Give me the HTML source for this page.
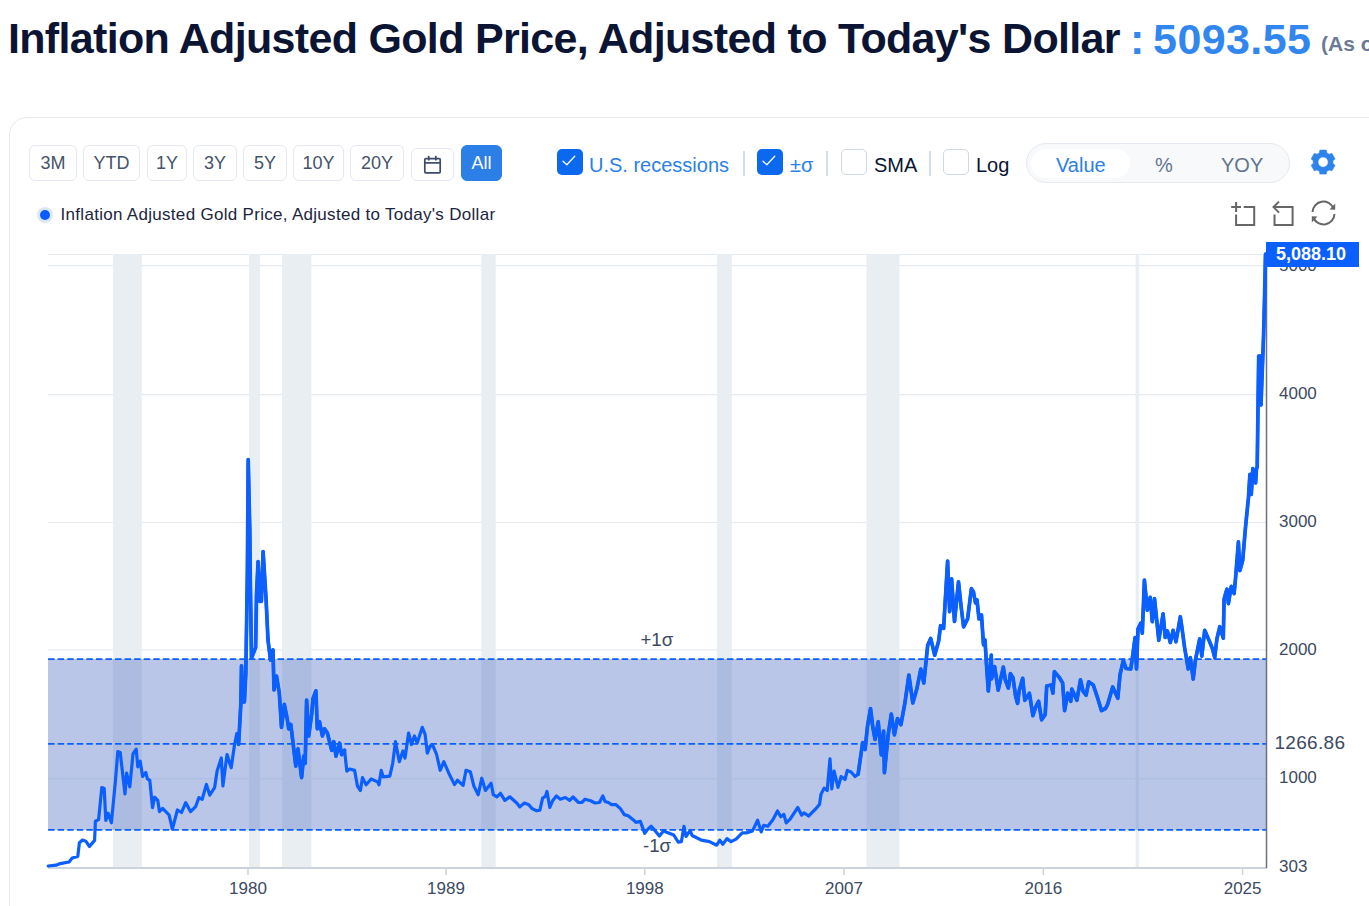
<!DOCTYPE html>
<html><head><meta charset="utf-8">
<style>
*{margin:0;padding:0;box-sizing:border-box}
html,body{width:1369px;height:906px;overflow:hidden;background:#fff;font-family:"Liberation Sans",sans-serif}
.abs{position:absolute}
.tt{white-space:nowrap;font-weight:bold;font-size:43px;line-height:50px}
#card{left:9px;top:117px;width:1400px;height:900px;border:1px solid #e5eaf0;border-radius:18px}
.btn{position:absolute;top:145px;height:36px;border:1px solid #e3e8ef;border-radius:6px;color:#45526a;font-size:18px;text-align:center;line-height:35px}
.cb{position:absolute;top:149px;width:26px;height:26px;border-radius:5px}
.cb.on{background:#0a69ef}
.cb.off{background:#fff;border:1px solid #cfd8e3}
.sep{position:absolute;top:151px;width:2px;height:25px;background:#d5dde7}
.lbl{position:absolute;top:152.5px;font-size:20px;line-height:24px;white-space:nowrap}
</style></head><body>
<div class="abs tt" style="left:8px;top:13px;letter-spacing:-0.68px;color:#0b1533">Inflation Adjusted Gold Price, Adjusted to Today's Dollar</div>
<div class="abs tt" style="left:1130px;top:14px;letter-spacing:0.4px;word-spacing:-4px;color:#3187ee">: 5093.55</div>
<div class="abs tt" style="left:1321px;top:19px;color:#6b7a95;font-size:21px">(As of</div>
<div id="card" class="abs"></div>

<div class="btn" style="left:29px;width:48px">3M</div>
<div class="btn" style="left:83px;width:57px">YTD</div>
<div class="btn" style="left:147px;width:40px">1Y</div>
<div class="btn" style="left:193px;width:44px">3Y</div>
<div class="btn" style="left:243px;width:44px">5Y</div>
<div class="btn" style="left:293px;width:51px">10Y</div>
<div class="btn" style="left:350px;width:54px">20Y</div>
<div class="btn" style="left:411px;top:148px;width:43px;height:33px"></div>
<div class="btn" style="left:461px;width:41px;background:#2b7fe6;border-color:#2b7fe6;color:#fff">All</div>

<div class="cb on" style="left:557px"></div>
<div class="lbl" style="left:589px;color:#2b7fe6">U.S. recessions</div>
<div class="sep" style="left:743px"></div>
<div class="cb on" style="left:757px"></div>
<div class="lbl" style="left:790px;color:#2b7fe6">±σ</div>
<div class="sep" style="left:826px"></div>
<div class="cb off" style="left:841px"></div>
<div class="lbl" style="left:874px;color:#0b1533">SMA</div>
<div class="sep" style="left:929px"></div>
<div class="cb off" style="left:943px"></div>
<div class="lbl" style="left:976px;color:#0b1533">Log</div>

<div class="abs" style="left:1026px;top:143px;width:264px;height:40px;border-radius:20px;background:#f7f9fb;border:1px solid #e5eaf0"></div>
<div class="abs" style="left:1031px;top:149px;width:99px;height:29px;border-radius:15px;background:#fff"></div>
<div class="lbl" style="left:1056px;top:153px;color:#2b7fe6">Value</div>
<div class="lbl" style="left:1155px;top:153px;color:#64748b">%</div>
<div class="lbl" style="left:1221px;top:153px;color:#64748b">YOY</div>

<div class="abs" style="left:37px;top:207px;width:16px;height:16px;border-radius:8px;background:#dbe7fd"></div>
<div class="abs" style="left:40px;top:210px;width:10px;height:10px;border-radius:5px;background:#0a5cff"></div>
<div class="abs" style="left:60.5px;top:205px;font-size:17px;letter-spacing:0.3px;line-height:20px;color:#1b2540;white-space:nowrap">Inflation Adjusted Gold Price, Adjusted to Today's Dollar</div>

<svg class="abs" style="left:0;top:0" width="1369" height="240" viewBox="0 0 1369 240">
<g fill="none" stroke="#fff" stroke-width="1.3" stroke-linecap="round" stroke-linejoin="round">
<path d="M563 161.2 L566.8 164.7 L574.7 156.3"/>
<path d="M763 161.2 L766.8 164.7 L774.7 156.3"/>
</g>
<g fill="none" stroke="#3d4a68" stroke-width="1.7">
<rect x="424.8" y="158.6" width="15.4" height="14.2" rx="1"/>
<line x1="424.8" y1="162.9" x2="440.2" y2="162.9"/>
<line x1="428.7" y1="155.8" x2="428.7" y2="160.5"/>
<line x1="435.8" y1="155.8" x2="435.8" y2="160.5"/>
</g>
<path d="M1318.15 153.53 L1319.39 152.92 L1319.89 150.12 L1326.31 150.12 L1326.81 152.92 L1328.05 153.53 L1329.20 154.30 L1331.87 153.33 L1335.08 158.89 L1332.90 160.72 L1333.00 162.10 L1332.90 163.48 L1335.08 165.31 L1331.87 170.87 L1329.20 169.90 L1328.05 170.67 L1326.81 171.28 L1326.31 174.08 L1319.89 174.08 L1319.39 171.28 L1318.15 170.67 L1317.00 169.90 L1314.33 170.87 L1311.12 165.31 L1313.30 163.48 L1313.20 162.10 L1313.30 160.72 L1311.12 158.89 L1314.33 153.33 L1317.00 154.30 Z M1318.00 162.10 a5.10 5.10 0 1 0 10.20 0 a5.10 5.10 0 1 0 -10.20 0 Z" fill="#2f84ec" fill-rule="evenodd" stroke="#2f84ec" stroke-width="0.6" stroke-linejoin="round"/>
<g fill="none" stroke="#666" stroke-width="2">
<path d="M1231.2 207.1 H1241 M1236.1 202.1 V212 M1243.7 207.1 H1254.2 V225 H1236.1 V214.5"/>
<path d="M1273.5 207.1 H1292.6 V225 H1274.5 V214.5 M1279 201.6 L1273.5 207.1 L1279 212.6"/>
<path d="M1312.5 212 A11 11 0 0 1 1333.5 208 M1334.5 214 A11 11 0 0 1 1313.5 218"/>
</g>
<g fill="#666">
<path d="M1335.2 203.5 L1335.2 209.8 L1329.5 209.5 Z"/>
<path d="M1311.8 222.5 L1311.8 216.2 L1317.5 216.5 Z"/>
</g>
</svg>
<svg class="abs" style="left:0;top:0" width="1369" height="906" viewBox="0 0 1369 906">
<g stroke="#e6ebf1" stroke-width="1.1">
<line x1="48" y1="254.5" x2="1266" y2="254.5"/>
<line x1="48" y1="265.6" x2="1266" y2="265.6"/>
<line x1="48" y1="394.6" x2="1266" y2="394.6"/>
<line x1="48" y1="522.5" x2="1266" y2="522.5"/>
<line x1="48" y1="649.9" x2="1266" y2="649.9"/>
<line x1="48" y1="778.7" x2="1266" y2="778.7"/>
</g>
<g fill="#e9eef3">
<rect x="112.9" y="254" width="28.9" height="614"/>
<rect x="249.1" y="254" width="10.8" height="614"/>
<rect x="282" y="254" width="29.4" height="614"/>
<rect x="481.3" y="254" width="14.4" height="614"/>
<rect x="717" y="254" width="14.8" height="614"/>
<rect x="866.4" y="254" width="33.1" height="614"/>
<rect x="1135.6" y="254" width="3.2" height="614"/>
</g>
<rect x="48" y="659" width="1218" height="170.9" fill="rgb(84,116,196)" fill-opacity="0.41"/>
<g stroke="#0b5fff" stroke-width="1.8" stroke-dasharray="6.5 3.06" stroke-dashoffset="-0.1" fill="none">
<line x1="48" y1="659.2" x2="1266" y2="659.2"/>
<line x1="48" y1="743.9" x2="1266" y2="743.9"/>
<line x1="48" y1="829.9" x2="1266" y2="829.9"/>
</g>
<line x1="48" y1="868" x2="1267" y2="868" stroke="#ccd3de" stroke-width="2"/>
<line x1="1266.5" y1="254" x2="1266.5" y2="868" stroke="#6c717d" stroke-width="1.5"/>
<g stroke="#ccd3de" stroke-width="1.5">
<line x1="248" y1="868" x2="248" y2="875"/>
<line x1="446" y1="868" x2="446" y2="875"/>
<line x1="644.8" y1="868" x2="644.8" y2="875"/>
<line x1="844" y1="868" x2="844" y2="875"/>
<line x1="1043.4" y1="868" x2="1043.4" y2="875"/>
<line x1="1242.6" y1="868" x2="1242.6" y2="875"/>
</g>
<g font-family="Liberation Sans, sans-serif" font-size="17" fill="#3d4a63" text-anchor="middle">
<text x="248" y="894">1980</text>
<text x="446" y="894">1989</text>
<text x="644.8" y="894">1998</text>
<text x="844" y="894">2007</text>
<text x="1043.4" y="894">2016</text>
<text x="1242.6" y="894">2025</text>
</g>
<g font-family="Liberation Sans, sans-serif" font-size="17" fill="#3d4a63">
<text x="1279" y="271">5000</text>
<text x="1279" y="399">4000</text>
<text x="1279" y="527">3000</text>
<text x="1279" y="655">2000</text>
<text x="1274.5" y="749" font-size="19" letter-spacing="0.3">1266.86</text>
<text x="1279" y="783">1000</text>
<text x="1279" y="872">303</text>
<text x="640.5" y="646" font-size="18.6">+1σ</text>
<text x="643" y="852" font-size="18.6">-1σ</text>
</g>
<path id="series" d="M48.2 866 L56.2 865.2 L60.2 863.6 L69 862 L72.2 858 L77.8 856.4 L79.4 842.8 L82.6 840 L85.8 841.2 L89.5 846.5 L94.6 840.4 L95.4 821.2 L98.6 819.6 L101.8 787.6 L104.2 788.4 L105.8 820.4 L108.2 813.2 L111.4 822.8 L115.4 781.2 L117.8 751.6 L120.2 752.4 L125 794 L126.6 773.2 L129.8 786.8 L133 754 L136.2 749.2 L137.8 766.8 L140.2 761.2 L142.6 776.4 L145.8 772.4 L147.4 778.8 L149.8 780.4 L152.5 807.6 L154.6 797.2 L157.8 800.4 L159.4 811.6 L162.6 808.4 L169.1 815 L172.4 829.1 L177.4 810 L181.5 812.5 L185.7 802.6 L190.6 811.7 L195.6 806.7 L198.9 797.6 L202.2 799.3 L206.4 784.4 L209.7 795.1 L214.6 787.7 L217.1 771.1 L221.3 757.9 L222.9 786 L227 754.6 L231.2 767.8 L234.4 745.5 L236.8 733.5 L238.6 744.5 L240.8 704.6 L241.5 665.9 L242.9 701.8 L244.4 701.8 L245.8 673 L246.5 630 L247.4 569.8 L248.2 459.5 L249.8 531 L250.3 578 L251.5 658 L255.6 647.6 L256.5 594.7 L258.1 561.6 L259.8 601.3 L261.4 601.3 L263.1 551.6 L266 598 L268 640 L270.5 660 L273 650 L274 690 L276.5 676 L279.3 693 L281.5 727.4 L284.3 704.4 L287.2 718.8 L288.7 728.8 L290.8 724.5 L295.8 766.1 L298 748.9 L301.6 777.6 L303.7 756.1 L305.2 763.3 L306.6 700.1 L308.7 736 L311.6 714.5 L313 698.7 L315.9 690.8 L317.3 728.8 L319.5 721.7 L322.4 736 L324.5 728.8 L327.4 733.1 L331.7 750.3 L333.8 741.7 L336 756.1 L339.6 743.2 L341.7 754.6 L344.6 750.3 L346.8 771.1 L349.6 769 L354.6 770.4 L357.5 786.2 L360.4 790.5 L362.5 777.6 L366.1 784.8 L371.1 779 L377.6 781.9 L379 784.8 L381.2 770.4 L383.3 776.9 L389.8 776.2 L392.7 763.3 L395.5 741.7 L399.3 761.7 L402.9 750.9 L405 758.1 L408.6 733 L411.5 744.5 L414.4 735.9 L417.2 743 L422.3 727.3 L425.1 734.4 L427.3 753.1 L430.2 745.9 L433 745.9 L436.6 754.5 L440.2 770.3 L443.8 761.7 L448.8 773.2 L454.5 784.6 L457.4 780.3 L463.1 785.4 L466 770.3 L470.3 771.7 L473.9 786.1 L478.2 794.7 L481.8 778.2 L485.4 790.4 L491.1 783.2 L493.3 794.7 L496.9 796.8 L500.5 793.3 L504.8 800.4 L509.8 796.8 L517 803.3 L519.8 806.9 L524.4 803 L528.8 804.7 L532.1 808.6 L536.6 810.8 L539.9 810.2 L542.6 798.1 L545.4 796.4 L547 791.5 L549.8 807.5 L552.6 800.8 L556.4 795.9 L560.3 799.2 L565.3 797.5 L569.7 800.3 L573 797 L578.5 802.5 L581.8 802.5 L585.1 799.2 L590.6 800.8 L595 803 L599.5 802.5 L602.8 795.9 L605 801.4 L608.3 802.5 L611.6 804.7 L616 804.7 L620.4 808.6 L624.3 814.6 L628.2 815.7 L633.7 820.2 L635.9 822.4 L640.3 821.3 L644.7 833.4 L647.7 829.4 L651.2 826.3 L655.3 830.9 L659.4 836 L663.5 830.9 L668.6 832.9 L673.7 835 L678.3 842.1 L681.4 841.6 L684 826.3 L686 836.5 L690.1 830.4 L692.1 835.5 L696.2 837.5 L701.3 840.1 L709.5 841.6 L716.7 845.2 L719.8 840.1 L722.8 844.2 L726.9 838.6 L731 841.6 L736.1 839.1 L742.2 832.9 L746.3 832.9 L752.5 830.9 L757.6 820.2 L761.2 831.9 L763.7 825.3 L767.8 826.3 L772.9 819.7 L777.5 811 L780.8 816.7 L783.9 814.4 L786.2 822.9 L790.1 819.1 L797.8 807.5 L801.7 815.2 L804 812.9 L808.6 816 L811.7 812.9 L815.6 809 L819.5 804.4 L821 794.3 L824.1 788.1 L827.2 790.5 L830 758.8 L831.8 788.9 L834.1 771.1 L838 787.4 L841.1 776.6 L845 779.6 L847.3 770.4 L851.1 771.9 L855 776.6 L858.1 774.2 L862.7 742.6 L865.1 749.5 L867.4 727.1 L870.5 708.5 L872.8 727.1 L875.1 739.5 L878.2 721.7 L881.3 754.9 L883.6 731 L884.4 772.7 L888.2 734.8 L891.3 714 L894.4 734.8 L897.5 718.6 L900.9 724.7 L904.9 702.9 L908.9 675.1 L912.8 702.9 L916.8 689 L920.8 669.1 L923.8 683 L927.7 645.3 L930.7 638.4 L934.7 655.2 L938.6 641.3 L940.6 625.5 L943.6 628.4 L947.6 561 L949.6 611.6 L951.6 578.8 L954.5 621.5 L958.5 581.8 L961 605.6 L963.6 626.8 L967.6 618.9 L971.4 588.7 L973.5 592 L975.5 603 L977 600 L979 619 L981.5 615 L983.5 645 L985 640 L986.5 665 L988.3 691 L991.3 655.2 L991.5 678.9 L994.6 666.6 L998.2 690.1 L1003.3 667.1 L1005.3 679.9 L1008.4 688.1 L1010.4 673.7 L1013 677.8 L1015.6 696.2 L1017.6 703.4 L1019.1 691.1 L1022.7 678.3 L1024.8 700.3 L1029.4 693.2 L1032.9 715.7 L1035.5 707.5 L1038.6 701.3 L1041.6 719.8 L1045.2 714.6 L1046.7 686 L1051.3 685 L1052.9 693.2 L1054.4 671.7 L1059.5 677.8 L1062.6 682.9 L1064.6 710.6 L1067.7 693.2 L1070.8 701.3 L1071.8 689.1 L1076.9 700.3 L1080.5 679.9 L1083 691.1 L1086.1 695.2 L1088.7 681.9 L1093.3 685 L1097.4 697.3 L1101.5 710.6 L1105.5 708.5 L1107.6 704.4 L1112.7 687 L1117.8 698.3 L1120 674.8 L1123.3 660.4 L1126 668.5 L1130.8 669 L1133 653.3 L1135.1 637.5 L1136.5 669 L1138 628.9 L1140.8 623.1 L1142.3 633.2 L1144.4 580.1 L1147.3 610.2 L1150.2 597.3 L1152.3 621.7 L1154.5 598.7 L1158.8 640.3 L1163.1 613.8 L1165.2 637.5 L1167.4 631 L1170.3 642.5 L1173.1 630.3 L1176 641.8 L1180.3 616.7 L1181.7 626 L1184.6 647.5 L1188.2 669 L1190.3 657.6 L1193.2 679.1 L1195.4 660.4 L1199.7 638.9 L1201.8 656.1 L1204.7 630.3 L1209 640.3 L1212.6 649 L1214.7 657.6 L1216.9 638.9 L1219.8 626.7 L1223.3 638.2 L1224.1 599.3 L1226 592 L1227 589.2 L1228.4 603.6 L1231.3 586.3 L1234.1 593.5 L1235.6 577.7 L1238.4 541.9 L1239.9 570.6 L1242.7 560.5 L1245.6 526.1 L1248.5 497.4 L1249.9 474.4 L1251.3 494.5 L1252.8 468.7 L1255.6 483 L1256.5 468.7 L1257.2 466.9 L1258.7 356 L1261.3 356 L1261 405 L1263.6 335 L1264.5 300 L1265.5 254.2" fill="none" stroke="#0b5fff" stroke-width="3.2" stroke-linejoin="round" stroke-linecap="round"/>
<path id="series2" d="M238.6 744.5 L240.8 704.6 L241.5 665.9 L242.9 701.8 L244.4 701.8 L245.8 673 L246.5 630 L247.4 569.8 L248.2 459.5 L249.8 531 L250.3 578 L251.5 658 L255.6 647.6 L256.5 594.7 L258.1 561.6 L259.8 601.3 L261.4 601.3 L263.1 551.6 L266 598 L268 640 L270.5 660 L273 650 L274 690 L276.5 676 L279.3 693 L281.5 727.4 L284.3 704.4 L287.2 718.8 L288.7 728.8 L290.8 724.5 L295.8 766.1 L298 748.9 L301.6 777.6 L303.7 756.1 L305.2 763.3 L306.6 700.1 L308.7 736 L311.6 714.5 L313 698.7 L315.9 690.8 L317.3 728.8 L319.5 721.7 L322.4 736 L324.5 728.8 L327.4 733.1 L331.7 750.3 L333.8 741.7 L336 756.1 L339.6 743.2 L341.7 754.6 L344.6 750.3 M858.1 774.2 L862.7 742.6 L865.1 749.5 L867.4 727.1 L870.5 708.5 L872.8 727.1 L875.1 739.5 L878.2 721.7 L881.3 754.9 L883.6 731 L884.4 772.7 L888.2 734.8 L891.3 714 L894.4 734.8 L897.5 718.6 L900.9 724.7 L904.9 702.9 L908.9 675.1 L912.8 702.9 L916.8 689 L920.8 669.1 L923.8 683 L927.7 645.3 L930.7 638.4 L934.7 655.2 L938.6 641.3 L940.6 625.5 L943.6 628.4 L947.6 561 L949.6 611.6 L951.6 578.8 L954.5 621.5 L958.5 581.8 L961 605.6 L963.6 626.8 L967.6 618.9 L971.4 588.7 L973.5 592 L975.5 603 L977 600 L979 619 L981.5 615 L983.5 645 L985 640 L986.5 665 L988.3 691 L991.3 655.2 L991.5 678.9 L994.6 666.6 L998.2 690.1 L1003.3 667.1 L1005.3 679.9 L1008.4 688.1 L1010.4 673.7 L1013 677.8 L1015.6 696.2 L1017.6 703.4 L1019.1 691.1 L1022.7 678.3 L1024.8 700.3 L1029.4 693.2 L1032.9 715.7 L1035.5 707.5 L1038.6 701.3 L1041.6 719.8 L1045.2 714.6 L1046.7 686 L1051.3 685 L1052.9 693.2 L1054.4 671.7 L1059.5 677.8 L1062.6 682.9 L1064.6 710.6 L1067.7 693.2 L1070.8 701.3 L1071.8 689.1 L1076.9 700.3 L1080.5 679.9 L1083 691.1 L1086.1 695.2 L1088.7 681.9 L1093.3 685 L1097.4 697.3 L1101.5 710.6 L1105.5 708.5 L1107.6 704.4 L1112.7 687 L1117.8 698.3 L1120 674.8 L1123.3 660.4 L1126 668.5 L1130.8 669 L1133 653.3 L1135.1 637.5 L1136.5 669 L1138 628.9 L1140.8 623.1 L1142.3 633.2 L1144.4 580.1 L1147.3 610.2 L1150.2 597.3 L1152.3 621.7 L1154.5 598.7 L1158.8 640.3 L1163.1 613.8 L1165.2 637.5 L1167.4 631 L1170.3 642.5 L1173.1 630.3 L1176 641.8 L1180.3 616.7 L1181.7 626 L1184.6 647.5 L1188.2 669 L1190.3 657.6 L1193.2 679.1 L1195.4 660.4 L1199.7 638.9 L1201.8 656.1 L1204.7 630.3 L1209 640.3 L1212.6 649 L1214.7 657.6 L1216.9 638.9 L1219.8 626.7 L1223.3 638.2 L1224.1 599.3 L1226 592 L1227 589.2 L1228.4 603.6 L1231.3 586.3 L1234.1 593.5 L1235.6 577.7 L1238.4 541.9 L1239.9 570.6 L1242.7 560.5 L1245.6 526.1 L1248.5 497.4 L1249.9 474.4 L1251.3 494.5 L1252.8 468.7 L1255.6 483 L1256.5 468.7 L1257.2 466.9 L1258.7 356 L1261.3 356 L1261 405 L1263.6 335 L1264.5 300 L1265.5 254.2" fill="none" stroke="#0b5fff" stroke-width="3.7" stroke-linejoin="round" stroke-linecap="round"/>
<rect x="1266" y="242" width="93" height="25" fill="#0b5fff"/>
<text x="1276" y="260" font-family="Liberation Sans, sans-serif" font-size="18" font-weight="bold" fill="#fff">5,088.10</text>
</svg>
</body></html>
